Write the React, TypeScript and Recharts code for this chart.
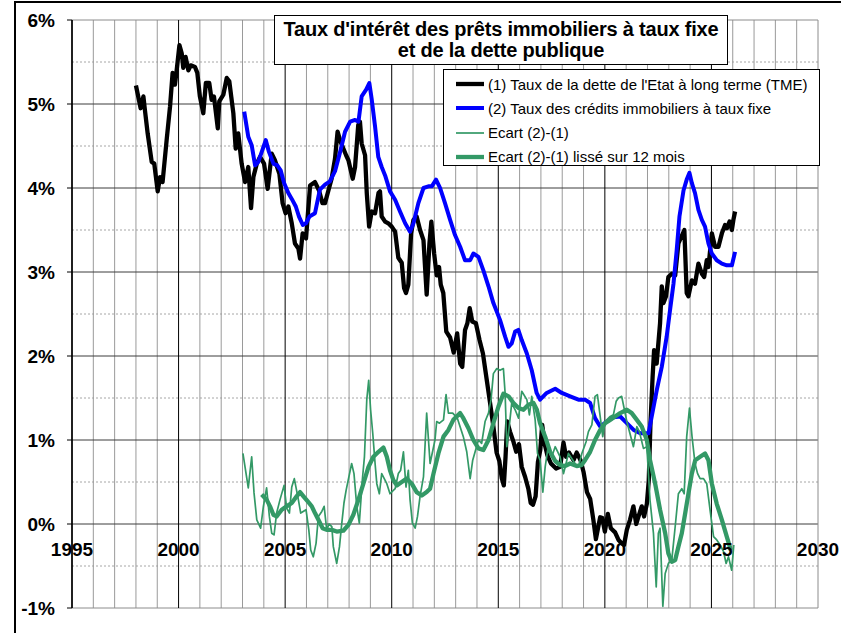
import React from 'react'
import { LineChart, Line, XAxis, YAxis, ReferenceLine } from 'recharts'

const FONT = '"Liberation Sans", Arial, Helvetica, sans-serif'

// [année, taux en %]
const tmeRate: [number, number][] = [
  [1998.0, 5.22], [1998.22, 4.95], [1998.35, 5.09], [1998.42, 4.93], [1998.55, 4.65], [1998.74, 4.31],
  [1998.86, 4.29], [1999.02, 3.96], [1999.13, 4.13], [1999.25, 4.07], [1999.44, 4.57], [1999.6, 4.97],
  [1999.72, 5.37], [1999.83, 5.23], [1999.91, 5.4], [2000.04, 5.7], [2000.15, 5.6], [2000.22, 5.43],
  [2000.33, 5.56], [2000.46, 5.4], [2000.57, 5.46], [2000.77, 5.44], [2000.88, 5.37], [2001.0, 5.09],
  [2001.16, 4.89], [2001.28, 5.25], [2001.44, 5.25], [2001.55, 5.05], [2001.66, 5.09], [2001.84, 4.71],
  [2001.91, 5.03], [2002.1, 5.11], [2002.26, 5.31], [2002.38, 5.27], [2002.57, 4.89], [2002.68, 4.47],
  [2002.8, 4.65], [2002.96, 4.29], [2003.12, 4.07], [2003.27, 4.25], [2003.4, 3.76], [2003.51, 4.13],
  [2003.67, 4.29], [2003.82, 4.37], [2004.01, 4.29], [2004.18, 3.99], [2004.37, 4.41], [2004.52, 4.33],
  [2004.73, 4.17], [2004.88, 3.82], [2005.02, 3.7], [2005.15, 3.78], [2005.31, 3.58], [2005.46, 3.34],
  [2005.62, 3.28], [2005.7, 3.16], [2005.82, 3.46], [2005.98, 3.4], [2006.17, 4.03], [2006.4, 4.07],
  [2006.59, 3.97], [2006.75, 3.82], [2006.87, 3.82], [2007.03, 3.97], [2007.18, 4.11], [2007.34, 4.35],
  [2007.46, 4.67], [2007.6, 4.55], [2007.73, 4.47], [2007.86, 4.39], [2007.97, 4.33], [2008.17, 4.11],
  [2008.28, 4.25], [2008.43, 4.75], [2008.51, 4.79], [2008.59, 4.53], [2008.75, 4.39], [2008.83, 3.94],
  [2008.94, 3.54], [2009.06, 3.72], [2009.22, 3.7], [2009.38, 3.94], [2009.45, 3.96], [2009.53, 3.66],
  [2009.69, 3.6], [2009.84, 3.58], [2010.0, 3.54], [2010.16, 3.48], [2010.31, 3.17], [2010.47, 3.11],
  [2010.58, 2.81], [2010.67, 2.75], [2010.78, 2.85], [2010.91, 3.46], [2011.02, 3.62], [2011.17, 3.66],
  [2011.33, 3.5], [2011.49, 3.38], [2011.64, 2.73], [2011.77, 3.34], [2011.86, 3.6], [2011.99, 3.22],
  [2012.11, 2.96], [2012.22, 3.06], [2012.3, 2.85], [2012.42, 2.75], [2012.56, 2.29], [2012.74, 2.22],
  [2012.91, 2.04], [2013.07, 2.27], [2013.21, 1.91], [2013.31, 1.87], [2013.44, 2.31], [2013.55, 2.39],
  [2013.66, 2.57], [2013.78, 2.41], [2013.95, 2.39], [2014.12, 2.19], [2014.28, 2.03], [2014.45, 1.73],
  [2014.61, 1.45], [2014.77, 1.16], [2014.92, 0.85], [2015.05, 0.75], [2015.16, 0.55], [2015.26, 0.46],
  [2015.34, 0.8], [2015.42, 1.22], [2015.55, 1.1], [2015.71, 0.98], [2015.84, 0.86], [2015.97, 0.95],
  [2016.1, 0.68], [2016.26, 0.56], [2016.41, 0.42], [2016.52, 0.25], [2016.63, 0.23], [2016.75, 0.33],
  [2016.86, 0.74], [2016.97, 0.88], [2017.06, 1.18], [2017.17, 0.96], [2017.3, 0.82], [2017.47, 0.72],
  [2017.71, 0.66], [2017.9, 0.68], [2018.06, 0.97], [2018.18, 0.8], [2018.32, 0.85], [2018.53, 0.76],
  [2018.68, 0.85], [2018.86, 0.76], [2019.0, 0.62], [2019.16, 0.38], [2019.31, 0.3], [2019.46, 0.05],
  [2019.58, -0.18], [2019.68, -0.05], [2019.78, 0.08], [2019.88, 0.07], [2020.0, -0.09], [2020.14, 0.12],
  [2020.28, -0.05], [2020.48, -0.1], [2020.64, -0.19], [2020.79, -0.23], [2020.9, -0.25], [2021.03, -0.07],
  [2021.18, 0.05], [2021.34, 0.21], [2021.47, 0.0], [2021.58, 0.09], [2021.73, 0.21], [2021.84, 0.09],
  [2021.97, 0.24], [2022.06, 0.52], [2022.14, 1.2], [2022.24, 1.75], [2022.31, 2.07], [2022.43, 1.91],
  [2022.59, 2.39], [2022.67, 2.83], [2022.75, 2.63], [2022.87, 2.71], [2022.98, 2.94], [2023.14, 2.98],
  [2023.3, 2.96], [2023.45, 3.34], [2023.73, 3.5], [2023.84, 2.75], [2023.92, 2.71], [2024.08, 2.9],
  [2024.23, 2.86], [2024.39, 3.1], [2024.55, 2.98], [2024.66, 2.94], [2024.78, 3.14], [2024.86, 3.06],
  [2025.02, 3.46], [2025.17, 3.3], [2025.33, 3.3], [2025.49, 3.46], [2025.64, 3.56], [2025.72, 3.52],
  [2025.85, 3.6], [2025.96, 3.5], [2026.03, 3.62], [2026.11, 3.72],
]

const mortgageRate: [number, number][] = [
  [2003.08, 4.91], [2003.27, 4.61], [2003.43, 4.51], [2003.59, 4.27], [2003.74, 4.31], [2003.93, 4.45],
  [2004.09, 4.57], [2004.24, 4.43], [2004.45, 4.29], [2004.63, 4.27], [2004.79, 4.21], [2004.95, 4.06],
  [2005.15, 3.94], [2005.31, 3.87], [2005.5, 3.78], [2005.65, 3.66], [2005.83, 3.56], [2005.98, 3.58],
  [2006.14, 3.66], [2006.4, 3.7], [2006.63, 3.98], [2006.87, 4.04], [2007.1, 4.08], [2007.34, 4.2],
  [2007.58, 4.43], [2007.81, 4.67], [2008.05, 4.79], [2008.28, 4.81], [2008.44, 4.79], [2008.59, 5.09],
  [2008.8, 5.17], [2008.95, 5.25], [2009.06, 5.06], [2009.22, 4.73], [2009.37, 4.37], [2009.53, 4.25],
  [2009.69, 4.15], [2009.92, 3.96], [2010.16, 3.86], [2010.39, 3.72], [2010.63, 3.58], [2010.86, 3.48],
  [2011.02, 3.58], [2011.25, 3.82], [2011.49, 4.0], [2011.72, 4.02], [2011.88, 4.02], [2012.08, 4.1],
  [2012.27, 4.0], [2012.5, 3.82], [2012.74, 3.62], [2012.97, 3.44], [2013.21, 3.3], [2013.44, 3.14],
  [2013.68, 3.14], [2013.83, 3.22], [2014.07, 3.18], [2014.3, 3.02], [2014.54, 2.83], [2014.77, 2.63],
  [2015.08, 2.43], [2015.32, 2.23], [2015.48, 2.11], [2015.63, 2.15], [2015.79, 2.29], [2015.94, 2.31],
  [2016.1, 2.19], [2016.34, 2.03], [2016.57, 1.83], [2016.8, 1.56], [2016.96, 1.48], [2017.27, 1.56],
  [2017.67, 1.61], [2017.98, 1.56], [2018.37, 1.52], [2018.76, 1.48], [2019.07, 1.48], [2019.31, 1.44],
  [2019.54, 1.26], [2019.78, 1.16], [2020.09, 1.22], [2020.4, 1.27], [2020.72, 1.28], [2021.03, 1.2],
  [2021.35, 1.12], [2021.66, 1.08], [2022.05, 1.08], [2022.2, 1.28], [2022.44, 1.6], [2022.67, 1.87],
  [2022.9, 2.23], [2023.06, 2.55], [2023.22, 2.86], [2023.37, 3.26], [2023.5, 3.66], [2023.69, 3.97],
  [2023.84, 4.1], [2023.97, 4.18], [2024.08, 4.06], [2024.23, 3.94], [2024.39, 3.74], [2024.55, 3.62],
  [2024.7, 3.54], [2024.86, 3.34], [2025.02, 3.22], [2025.25, 3.14], [2025.49, 3.1], [2025.72, 3.08],
  [2025.96, 3.08], [2026.11, 3.24],
]

const spreadRaw: [number, number][] = [
  [2003.02, 0.84], [2003.27, 0.43], [2003.43, 0.8], [2003.54, 0.37], [2003.67, 0.05], [2003.85, -0.05],
  [2003.98, 0.21], [2004.13, 0.43], [2004.26, 0.09], [2004.37, -0.11], [2004.48, -0.13], [2004.6, 0.13],
  [2004.76, 0.29], [2004.95, 0.46], [2005.07, 0.19], [2005.2, 0.13], [2005.31, 0.44], [2005.43, 0.54],
  [2005.62, 0.29], [2005.73, 0.13], [2005.98, 0.17], [2006.11, -0.07], [2006.2, -0.31], [2006.32, -0.39],
  [2006.45, -0.23], [2006.56, 0.09], [2006.72, 0.15], [2006.83, 0.21], [2006.95, -0.07], [2007.06, 0.0],
  [2007.19, -0.03], [2007.26, -0.27], [2007.42, -0.47], [2007.55, -0.27], [2007.65, -0.01], [2007.76, 0.25],
  [2007.86, 0.4], [2008.12, 0.72], [2008.23, 0.6], [2008.36, 0.21], [2008.48, 0.01], [2008.62, 0.52],
  [2008.72, 0.8], [2008.83, 1.48], [2008.92, 1.71], [2009.01, 1.36], [2009.11, 1.08], [2009.22, 0.72],
  [2009.3, 0.48], [2009.42, 0.36], [2009.53, 0.6], [2009.77, 0.48], [2009.92, 0.36], [2010.16, 0.42],
  [2010.31, 0.6], [2010.42, 0.64], [2010.55, 0.86], [2010.67, 0.44], [2010.78, 0.64], [2010.86, 0.29],
  [2010.97, 0.01], [2011.1, -0.05], [2011.21, 0.09], [2011.33, 0.33], [2011.49, 0.56], [2011.64, 1.32],
  [2011.8, 0.72], [2012.03, 1.0], [2012.11, 1.22], [2012.24, 1.2], [2012.43, 1.24], [2012.55, 1.54],
  [2012.66, 1.32], [2012.86, 1.32], [2013.08, 1.26], [2013.36, 1.04], [2013.52, 0.86], [2013.68, 0.54],
  [2013.8, 0.76], [2014.07, 1.0], [2014.22, 0.96], [2014.38, 1.22], [2014.54, 1.32], [2014.66, 1.48],
  [2014.77, 1.79], [2014.93, 1.85], [2015.08, 1.83], [2015.24, 1.85], [2015.32, 1.56], [2015.4, 0.92],
  [2015.48, 1.08], [2015.63, 1.44], [2015.79, 1.36], [2015.95, 1.26], [2016.1, 1.58], [2016.34, 1.48],
  [2016.46, 1.3], [2016.57, 1.52], [2016.73, 1.24], [2016.84, 0.84], [2016.96, 0.76], [2017.09, 0.38],
  [2017.2, 0.68], [2017.35, 0.94], [2017.51, 0.8], [2017.67, 0.92], [2017.9, 0.8], [2018.06, 0.6],
  [2018.18, 0.72], [2018.29, 0.84], [2018.6, 0.72], [2018.76, 0.68], [2018.92, 0.84], [2019.12, 0.98],
  [2019.23, 1.1], [2019.39, 1.18], [2019.54, 1.52], [2019.65, 1.54], [2019.78, 1.28], [2019.9, 1.04],
  [2020.01, 1.22], [2020.25, 1.28], [2020.4, 1.3], [2020.53, 1.46], [2020.64, 1.5], [2020.79, 1.52],
  [2021.03, 1.22], [2021.34, 0.92], [2021.5, 1.16], [2021.62, 1.1], [2021.81, 0.9], [2021.97, 0.92],
  [2022.12, 0.28], [2022.28, -0.11], [2022.41, -0.75], [2022.51, -0.11], [2022.59, -0.05], [2022.72, -0.98],
  [2022.83, -0.59], [2022.98, -0.47], [2023.14, -0.43], [2023.3, -0.03], [2023.45, 0.36], [2023.61, 0.42],
  [2023.72, 0.36], [2023.84, 1.04], [2023.97, 1.38], [2024.09, 1.04], [2024.23, 0.72], [2024.35, 0.6],
  [2024.47, 0.54], [2024.63, 0.54], [2024.78, 0.48], [2024.94, 0.16], [2025.1, -0.15], [2025.25, -0.19],
  [2025.41, -0.25], [2025.57, -0.33], [2025.69, -0.47], [2025.8, -0.39], [2025.95, -0.55], [2026.05, -0.25],
]

const spreadSmooth: [number, number][] = [
  [2003.9, 0.35], [2004.13, 0.29], [2004.29, 0.21], [2004.45, 0.11], [2004.6, 0.09], [2004.84, 0.17],
  [2005.07, 0.21], [2005.31, 0.25], [2005.54, 0.33], [2005.7, 0.38], [2005.86, 0.33], [2006.09, 0.26],
  [2006.25, 0.21], [2006.4, 0.13], [2006.56, 0.05], [2006.76, -0.05], [2006.95, -0.07], [2007.19, -0.07],
  [2007.42, -0.09], [2007.73, -0.08], [2007.97, -0.01], [2008.2, 0.11], [2008.44, 0.29], [2008.67, 0.48],
  [2008.91, 0.68], [2009.14, 0.8], [2009.38, 0.86], [2009.61, 0.91], [2009.77, 0.8], [2009.92, 0.64],
  [2010.08, 0.52], [2010.24, 0.46], [2010.47, 0.5], [2010.7, 0.54], [2010.94, 0.48], [2011.17, 0.38],
  [2011.41, 0.34], [2011.64, 0.38], [2011.8, 0.42], [2011.96, 0.6], [2012.19, 0.84], [2012.43, 1.04],
  [2012.66, 1.12], [2012.89, 1.24], [2013.21, 1.32], [2013.36, 1.26], [2013.6, 1.14], [2013.83, 1.0],
  [2014.07, 0.9], [2014.3, 0.88], [2014.54, 1.0], [2014.77, 1.2], [2015.01, 1.4], [2015.24, 1.55],
  [2015.48, 1.52], [2015.71, 1.44], [2015.95, 1.38], [2016.18, 1.36], [2016.41, 1.42], [2016.65, 1.44],
  [2016.81, 1.36], [2016.96, 1.2], [2017.2, 1.04], [2017.43, 0.86], [2017.67, 0.75], [2017.9, 0.7],
  [2018.13, 0.69], [2018.37, 0.72], [2018.68, 0.69], [2018.9, 0.7], [2019.07, 0.76], [2019.31, 0.86],
  [2019.54, 1.0], [2019.78, 1.12], [2020.01, 1.2], [2020.25, 1.24], [2020.48, 1.28], [2020.72, 1.32],
  [2021.03, 1.36], [2021.26, 1.32], [2021.5, 1.24], [2021.73, 1.16], [2021.97, 1.0], [2022.12, 0.76],
  [2022.36, 0.48], [2022.59, 0.17], [2022.83, -0.11], [2022.98, -0.35], [2023.14, -0.45], [2023.3, -0.43],
  [2023.45, -0.27], [2023.61, -0.11], [2023.77, 0.13], [2023.92, 0.36], [2024.08, 0.6], [2024.24, 0.76],
  [2024.47, 0.8], [2024.7, 0.84], [2024.86, 0.76], [2025.02, 0.48], [2025.25, 0.24], [2025.49, 0.05],
  [2025.72, -0.15], [2025.91, -0.31],
]

const yearTicks = [1995, 2000, 2005, 2010, 2015, 2020, 2025, 2030]
const minorYears = [
  1996, 1997, 1998, 1999, 2001, 2002, 2003, 2004, 2006, 2007, 2008, 2009, 2011, 2012, 2013, 2014,
  2016, 2017, 2018, 2019, 2021, 2022, 2023, 2024, 2026, 2027, 2028, 2029,
]
const pctTicks = [-1, 0, 1, 2, 3, 4, 5, 6]
const halfPcts = [-0.5, 0.5, 1.5, 2.5, 3.5, 4.5, 5.5]

const series = [
  { key: 'tme', name: "(1) Taux de la dette de l'Etat à long terme (TME)", data: tmeRate, color: '#000000', width: 4.3 },
  { key: 'immo', name: '(2) Taux des crédits immobiliers à taux fixe', data: mortgageRate, color: '#0000ff', width: 4 },
  { key: 'ecart', name: 'Ecart (2)-(1)', data: spreadRaw, color: '#339966', width: 1.7 },
  { key: 'lisse', name: 'Ecart (2)-(1) lissé sur 12 mois', data: spreadSmooth, color: '#339966', width: 4.3 },
]

const toRows = (pts: [number, number][]) => pts.map(([t, v]) => ({ t, v }))

const YearTick = (props: any) => {
  const { x, y, payload } = props
  return (
    <text x={x} y={y} dy={-52} textAnchor="middle" fontFamily={FONT} fontSize={19} fontWeight="bold" fill="#000">
      {payload.value}
    </text>
  )
}

export default function App() {
  return (
    <div style={{ position: 'absolute', left: 0, top: 0, width: 841, height: 633, background: '#fff', overflow: 'hidden', fontFamily: FONT }}>
      <div style={{ position: 'absolute', left: 14, top: 1, width: 840, height: 640, borderLeft: '2px solid #000', borderTop: '2px solid #000' }} />
      <LineChart width={841} height={633} margin={{ top: 20, right: 23, bottom: 0, left: 0 }}>
        <XAxis
          type="number"
          dataKey="t"
          domain={[1995, 2030]}
          ticks={yearTicks}
          allowDataOverflow
          axisLine={false}
          tickLine={false}
          tickSize={0}
          tickMargin={0}
          height={25}
          tick={<YearTick />}
          interval={0}
        />
        <YAxis
          type="number"
          domain={[-1, 6]}
          ticks={pctTicks}
          allowDataOverflow
          width={72}
          interval={0}
          tickFormatter={(v: number) => `${v}%`}
          tick={{ fontFamily: FONT, fontSize: 19, fontWeight: 'bold', fill: '#000' }}
          tickSize={5}
          tickMargin={12}
          tickLine={{ stroke: '#000' }}
          axisLine={{ stroke: '#000', strokeWidth: 1.5 }}
        />
        {halfPcts.map((v) => (
          <ReferenceLine key={'h' + v} y={v} stroke="#a6a6a6" strokeDasharray="2 2" />
        ))}
        {minorYears.map((v) => (
          <ReferenceLine key={'m' + v} x={v} stroke="#9a9a9a" />
        ))}
        {pctTicks.map((v) => (
          <ReferenceLine key={'p' + v} y={v} stroke={v === -1 || v === 6 ? '#8c8c8c' : '#3c3c3c'} />
        ))}
        {yearTicks.map((v) => (
          <ReferenceLine key={'y' + v} x={v} stroke={v === 2030 ? '#8c8c8c' : '#000'} />
        ))}
        {series.map((s) => (
          <Line
            key={s.key}
            data={toRows(s.data)}
            dataKey="v"
            name={s.name}
            type="linear"
            stroke={s.color}
            strokeWidth={s.width}
            strokeLinejoin="round"
            dot={false}
            activeDot={false}
            isAnimationActive={false}
          />
        ))}
      </LineChart>

      <div
        style={{
          position: 'absolute', left: 274, top: 15, width: 452, height: 45, border: '1px solid #000', background: '#fff',
          textAlign: 'center', fontWeight: 'bold', fontSize: 20, lineHeight: '20.5px', paddingTop: 3, boxSizing: 'content-box',
          color: '#000', letterSpacing: -0.2, whiteSpace: 'nowrap',
        }}
      >
        Taux d'intérêt des prêts immobiliers à taux fixe
        <br />
        et de la dette publique
      </div>

      <div
        style={{
          position: 'absolute', left: 443, top: 69, width: 375, height: 95, border: '1px solid #000', background: '#fff',
          fontSize: 15, color: '#000',
        }}
      >
        {series.map((s, i) => (
          <div key={s.key} style={{ position: 'absolute', left: 0, top: 2 + i * 24.3, height: 24, width: 375, display: 'flex', alignItems: 'center' }}>
            <svg width={44} height={24} style={{ flex: 'none' }}>
              <line x1={12} x2={40} y1={12} y2={12} stroke={s.color} strokeWidth={s.width} />
            </svg>
            <span style={{ whiteSpace: 'nowrap' }}>{s.name}</span>
          </div>
        ))}
      </div>
    </div>
  )
}
